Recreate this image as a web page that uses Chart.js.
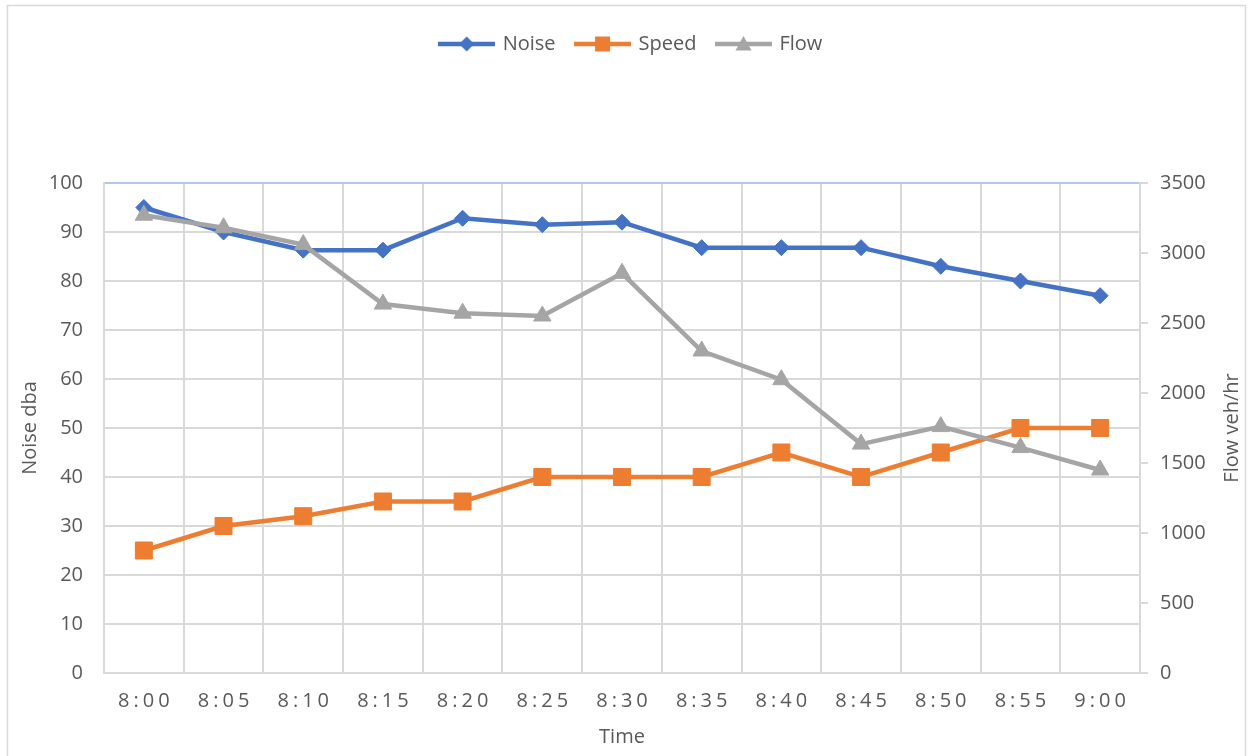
<!DOCTYPE html>
<html>
<head>
<meta charset="utf-8">
<title>Noise, Speed and Flow</title>
<script src="https://cdn.jsdelivr.net/npm/chart.js@4.4.1/dist/chart.umd.min.js"></script>
<style>
  html, body { margin: 0; padding: 0; background: #ffffff; }
  canvas { display: block; }
</style>
</head>
<body>
<canvas id="chart" width="1251" height="756"></canvas>
<script>
// Observation times (5-minute intervals)
const times = ['8:00', '8:05', '8:10', '8:15', '8:20', '8:25', '8:30', '8:35', '8:40', '8:45', '8:50', '8:55', '9:00'];

// Noise level (dBA) – left axis
const noise = [95, 90, 86.3, 86.3, 92.8, 91.5, 92, 86.8, 86.8, 86.8, 83, 80, 77];

// Speed – left axis
const speed = [25, 30, 32, 35, 35, 40, 40, 40, 45, 40, 45, 50, 50];

// Traffic flow (veh/hr) – right axis
const flow = [3270, 3180, 3060, 2635, 2570, 2550, 2855, 2300, 2095, 1635, 1760, 1610, 1450];

// Axis ranges
const noiseAxis = { min: 0, max: 100, step: 10 };
const flowAxis = { min: 0, max: 3500, step: 500 };

const FONT = '"Open Sans", "Liberation Sans", sans-serif';
const TEXT = '#595959';
const GRID = '#d9d9d9';
const COLORS = { noise: '#4472C4', speed: '#ED7D31', flow: '#A5A5A5' };

// Legend icon: a line segment with the series marker in the middle
function legendIcon(color, shape, size) {
  const w = 57, h = 22;
  const cv = document.createElement('canvas');
  cv.width = w; cv.height = h;
  const c = cv.getContext('2d');
  c.strokeStyle = color;
  c.fillStyle = color;
  c.lineWidth = 4.5;
  c.beginPath();
  c.moveTo(0, h / 2);
  c.lineTo(w, h / 2);
  c.stroke();
  const x = w / 2, y = h / 2;
  c.beginPath();
  if (shape === 'diamond') {
    c.moveTo(x - size, y); c.lineTo(x, y - size); c.lineTo(x + size, y); c.lineTo(x, y + size);
  } else if (shape === 'square') {
    c.rect(x - size, y - size, size * 2, size * 2);
  } else {
    c.moveTo(x, y - size); c.lineTo(x + size, y + size * 0.8); c.lineTo(x - size, y + size * 0.8);
  }
  c.closePath();
  c.fill();
  return cv;
}

const icons = [
  legendIcon(COLORS.noise, 'diamond', 7.5),
  legendIcon(COLORS.speed, 'square', 7.5),
  legendIcon(COLORS.flow, 'triangle', 8)
];

// White background and light frame around the chart
const frame = {
  id: 'frame',
  beforeDraw(chart) {
    const c = chart.ctx;
    c.save();
    c.fillStyle = '#ffffff';
    c.fillRect(0, 0, chart.width, chart.height);
    c.strokeStyle = GRID;
    c.lineWidth = 1.5;
    c.strokeRect(7.5, 5.5, 1238, 770);
    c.restore();
    // spaced-out category labels on the time axis
    const xs = chart.scales.x;
    if (xs && !xs._spaced) {
      const orig = xs.drawLabels;
      xs.drawLabels = function (area) {
        const ctx = this.ctx;
        ctx.save();
        ctx.letterSpacing = '4px';
        orig.call(this, area);
        ctx.restore();
      };
      xs._spaced = true;
    }
  }
};

// Fixed legend band height so the plot starts lower on the page
const legendBand = {
  id: 'legendBand',
  beforeLayout(chart) {
    const lg = chart.legend;
    if (lg && !lg._banded) {
      const fit = lg.fit;
      lg.fit = function () { fit.call(this); this.height = 170; };
      lg._banded = true;
    }
  }
};

// Right-hand axis title, reading bottom to top
const rightTitle = {
  id: 'rightTitle',
  afterDraw(chart) {
    const c = chart.ctx;
    const a = chart.chartArea;
    c.save();
    c.translate(1232, (a.top + a.bottom) / 2);
    c.rotate(-Math.PI / 2);
    c.font = '20px ' + FONT;
    c.fillStyle = TEXT;
    c.textAlign = 'center';
    c.textBaseline = 'middle';
    c.fillText('Flow veh/hr', 0, 0);
    c.restore();
  }
};

new Chart(document.getElementById('chart'), {
  type: 'line',
  data: {
    labels: times,
    datasets: [
      {
        label: 'Noise', data: noise, yAxisID: 'y',
        borderColor: COLORS.noise, backgroundColor: COLORS.noise,
        pointBorderColor: COLORS.noise, pointBackgroundColor: COLORS.noise,
        borderWidth: 4.5, pointStyle: 'rectRot', pointRadius: 8, pointBorderWidth: 1,
        tension: 0, order: 1
      },
      {
        label: 'Speed', data: speed, yAxisID: 'y',
        borderColor: COLORS.speed, backgroundColor: COLORS.speed,
        pointBorderColor: COLORS.speed, pointBackgroundColor: COLORS.speed,
        borderWidth: 4.5, pointStyle: 'rect', pointRadius: 12, pointBorderWidth: 1,
        tension: 0, order: 2
      },
      {
        label: 'Flow', data: flow, yAxisID: 'y1',
        borderColor: COLORS.flow, backgroundColor: COLORS.flow,
        pointBorderColor: COLORS.flow, pointBackgroundColor: COLORS.flow,
        borderWidth: 4.5, pointStyle: 'triangle', pointRadius: 10, pointBorderWidth: 1,
        tension: 0, order: 0
      }
    ]
  },
  options: {
    responsive: false,
    animation: false,
    devicePixelRatio: 1,
    layout: { padding: { top: 13, left: 20, right: 8, bottom: 7 } },
    plugins: {
      tooltip: { enabled: false },
      legend: {
        position: 'top',
        labels: {
          usePointStyle: true,
          pointStyleWidth: 52,
          padding: 21,
          color: TEXT,
          font: { family: FONT, size: 20 },
          generateLabels(chart) {
            return chart.data.datasets.map((ds, i) => ({
              text: ds.label,
              fillStyle: ds.borderColor,
              strokeStyle: ds.borderColor,
              lineWidth: 0,
              pointStyle: icons[i],
              fontColor: TEXT,
              hidden: false,
              datasetIndex: i
            }));
          }
        }
      }
    },
    scales: {
      x: {
        type: 'category',
        offset: true,
        afterFit(scale) { scale.height = 76; },
        grid: { offset: true, color: GRID, lineWidth: 2, drawTicks: false },
        border: { color: GRID, width: 2 },
        ticks: {
          color: TEXT, font: { family: FONT, size: 20 },
          padding: 16, autoSkip: false, maxRotation: 0, labelOffset: 2
        },
        title: {
          display: true, text: 'Time', color: TEXT,
          font: { family: FONT, size: 20 }, padding: { top: 12, bottom: 0 }
        }
      },
      y: {
        position: 'left',
        min: noiseAxis.min, max: noiseAxis.max,
        afterFit(scale) { scale.width = 84; },
        grid: {
          color: (ctx) => (ctx.tick && ctx.tick.value === noiseAxis.max ? '#b4c7e7' : GRID),
          lineWidth: 2, drawTicks: false
        },
        border: { color: GRID, width: 2 },
        ticks: {
          stepSize: noiseAxis.step, color: TEXT,
          font: { family: FONT, size: 20 }, padding: 21
        },
        title: {
          display: true, text: 'Noise dba', color: TEXT,
          font: { family: FONT, size: 20 }, padding: { top: -2, bottom: 0 }
        }
      },
      y1: {
        position: 'right',
        min: flowAxis.min, max: flowAxis.max,
        afterFit(scale) { scale.width = 103; },
        grid: { drawOnChartArea: false, color: GRID, lineWidth: 2, tickLength: 8 },
        border: { color: GRID, width: 2 },
        ticks: {
          stepSize: flowAxis.step, color: TEXT,
          font: { family: FONT, size: 20 }, padding: 12,
          callback: (v) => String(v)
        }
      }
    }
  },
  plugins: [frame, legendBand, rightTitle]
});
</script>
</body>
</html>
